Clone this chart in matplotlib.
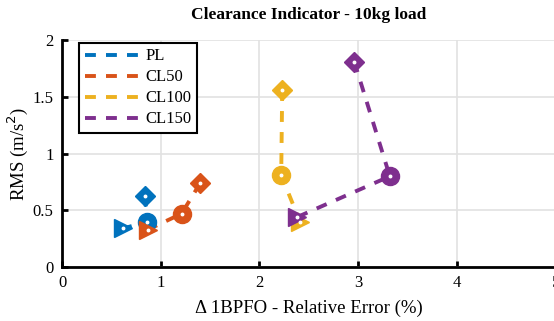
import matplotlib.pyplot as plt

plt.rcParams['font.family'] = ['Liberation Serif', 'DejaVu Serif']

labels = ["PL", "CL50", "CL100", "CL150"]
colors = ["#0072BD", "#D95319", "#EDB120", "#7E2F8E"]

# order of points: diamond, circle, triangle
x_pl = [0.84, 0.86, 0.62]
y_pl = [0.63, 0.40, 0.34]
x_cl50 = [1.40, 1.21, 0.87]
y_cl50 = [0.74, 0.47, 0.33]
x_cl100 = [2.23, 2.22, 2.41]
y_cl100 = [1.56, 0.81, 0.40]
x_cl150 = [2.96, 3.32, 2.38]
y_cl150 = [1.81, 0.80, 0.44]

xs = [x_pl, x_cl50, x_cl100, x_cl150]
ys = [y_pl, y_cl50, y_cl100, y_cl150]
markers = ["D", "o", ">"]
sizes = [10, 13, 13]

fig = plt.figure(figsize=(5.54, 3.21), dpi=100)
ax = fig.add_axes([0.112, 0.168, 0.891, 0.707])

for x, y, c, lab in zip(xs, ys, colors, labels):
    ax.plot(x, y, "--", color=c, lw=2.8, dashes=(2.8, 2.6), label=lab, zorder=3)
    for xi, yi, m, ms in zip(x, y, markers, sizes):
        ax.plot(xi, yi, marker=m, ms=ms, color=c, mec=c, zorder=4)
        ax.plot(xi, yi, marker="o", ms=1.8, color="white", mec="white", zorder=5)

ax.set_xlim(0, 5)
ax.set_ylim(0, 2)
ax.set_xticks([0, 1, 2, 3, 4, 5])
ax.set_yticks([0, 0.5, 1, 1.5, 2])
ax.set_yticklabels(["0", "0.5", "1", "1.5", "2"])
ax.grid(True, color="#e2e2e2", lw=1.2)
ax.set_axisbelow(True)
for s in ["top", "right"]:
    ax.spines[s].set_visible(False)
for s in ["left", "bottom"]:
    ax.spines[s].set_linewidth(2)
ax.tick_params(direction="in", width=2, length=4, labelsize=12, pad=6)

ax.set_title("Clearance Indicator - 10kg load", fontweight="bold", fontsize=12.5, pad=15)
ax.set_xlabel("Δ 1BPFO - Relative Error (%)", fontsize=13.5, labelpad=6)
ax.set_ylabel("RMS (m/s$^2$)", fontsize=13.5, labelpad=2)

leg = ax.legend(loc="upper left", bbox_to_anchor=(0.03, 1.0), fontsize=12,
                handlelength=3.3, fancybox=False, framealpha=1,
                edgecolor="black", borderpad=0.35, labelspacing=0.3,
                handletextpad=0.3, borderaxespad=0.15)
leg.get_frame().set_linewidth(1.5)

fig.savefig("out.png", dpi=100)
